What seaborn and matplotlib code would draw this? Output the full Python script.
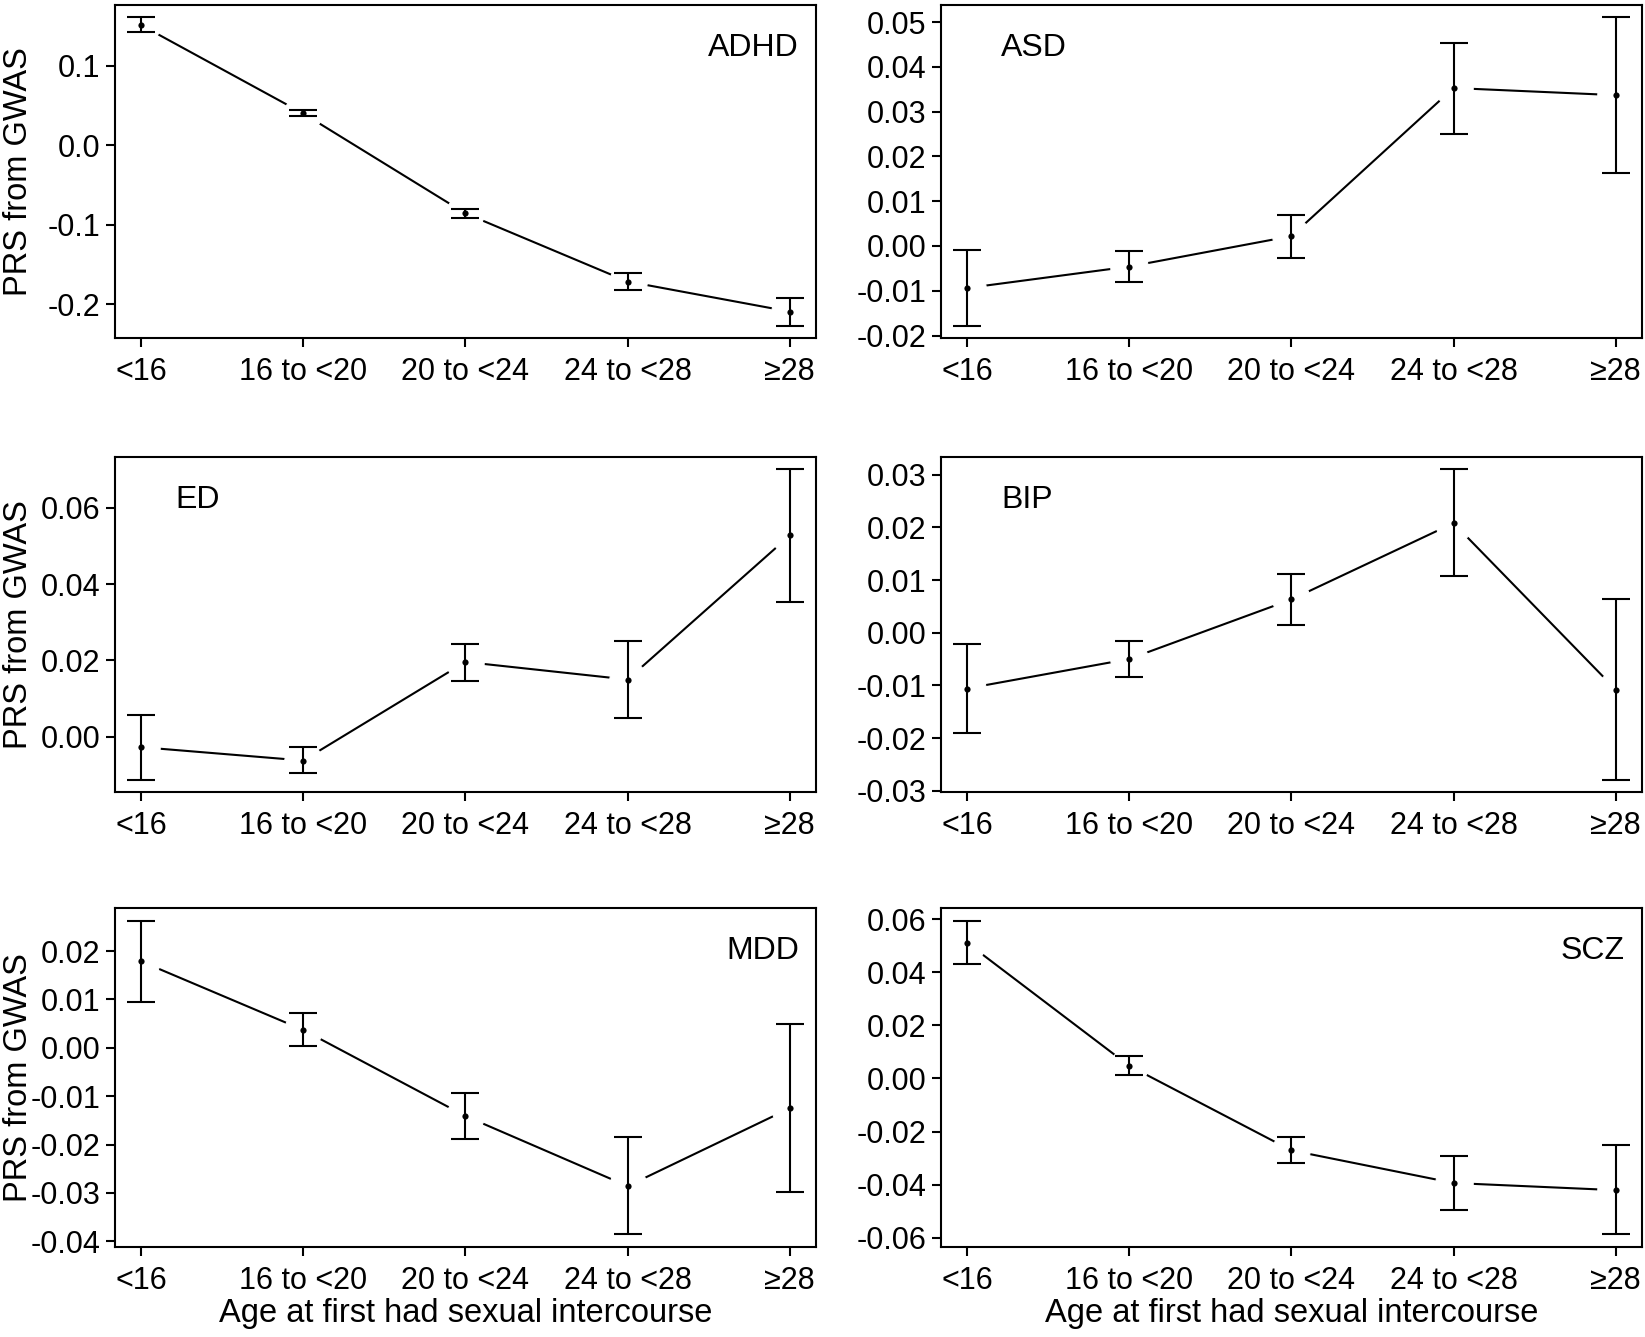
import numpy as np
import matplotlib
matplotlib.use("Agg")
import matplotlib.pyplot as plt
import seaborn as sns
from matplotlib.ticker import FormatStrFormatter

categories = ["<16", "16 to <20", "20 to <24", "24 to <28", "≥28"]
traits = ["ADHD", "ASD", "ED", "BIP", "MDD", "SCZ"]

# mean PRS, lower and upper CI per age group
adhd_mean = [0.1514, 0.0400, -0.0858, -0.1716, -0.2095]
adhd_lo = [0.1430, 0.0366, -0.0913, -0.1822, -0.2272]
adhd_hi = [0.1611, 0.0442, -0.0808, -0.1611, -0.1927]

asd_mean = [-0.0094, -0.0046, 0.0022, 0.0353, 0.0337]
asd_lo = [-0.0178, -0.0080, -0.0026, 0.0250, 0.0163]
asd_hi = [-0.0009, -0.0011, 0.0070, 0.0454, 0.0511]

ed_mean = [-0.0027, -0.0062, 0.0196, 0.0150, 0.0527]
ed_lo = [-0.0112, -0.0095, 0.0147, 0.0049, 0.0354]
ed_hi = [0.0057, -0.0027, 0.0244, 0.0252, 0.0700]

bip_mean = [-0.0106, -0.0050, 0.0063, 0.0208, -0.0108]
bip_lo = [-0.0191, -0.0084, 0.0015, 0.0107, -0.0279]
bip_hi = [-0.0021, -0.0016, 0.0111, 0.0310, 0.0063]

mdd_mean = [0.0179, 0.0037, -0.0141, -0.0286, -0.0125]
mdd_lo = [0.0095, 0.0003, -0.0189, -0.0386, -0.0298]
mdd_hi = [0.0263, 0.0072, -0.0093, -0.0185, 0.0049]

scz_mean = [0.0512, 0.0048, -0.0271, -0.0394, -0.0421]
scz_lo = [0.0430, 0.0014, -0.0320, -0.0494, -0.0588]
scz_hi = [0.0595, 0.0083, -0.0222, -0.0293, -0.0250]

yticks = {
    "ADHD": [-0.2, -0.1, 0.0, 0.1],
    "ASD": [-0.02, -0.01, 0.0, 0.01, 0.02, 0.03, 0.04, 0.05],
    "ED": [0.0, 0.02, 0.04, 0.06],
    "BIP": [-0.03, -0.02, -0.01, 0.0, 0.01, 0.02, 0.03],
    "MDD": [-0.04, -0.03, -0.02, -0.01, 0.0, 0.01, 0.02],
    "SCZ": [-0.06, -0.04, -0.02, 0.0, 0.02, 0.04, 0.06],
}
ytick_fmt = {"ADHD": "%.1f", "ASD": "%.2f", "ED": "%.2f",
             "BIP": "%.2f", "MDD": "%.2f", "SCZ": "%.2f"}
label_side = {"ADHD": "right", "ASD": "left", "ED": "left",
              "BIP": "left", "MDD": "right", "SCZ": "right"}

data = {
    "ADHD": (adhd_mean, adhd_lo, adhd_hi),
    "ASD": (asd_mean, asd_lo, asd_hi),
    "ED": (ed_mean, ed_lo, ed_hi),
    "BIP": (bip_mean, bip_lo, bip_hi),
    "MDD": (mdd_mean, mdd_lo, mdd_hi),
    "SCZ": (scz_mean, scz_lo, scz_hi),
}

sns.set_theme(style="ticks")
plt.rcParams["font.family"] = ["Liberation Sans", "DejaVu Sans"]
plt.rcParams["axes.unicode_minus"] = False
plt.rcParams["axes.edgecolor"] = "black"
plt.rcParams["axes.linewidth"] = 1.5
plt.rcParams["xtick.color"] = "black"
plt.rcParams["ytick.color"] = "black"
plt.rcParams["text.color"] = "black"
plt.rcParams["axes.labelcolor"] = "black"

fig = plt.figure(figsize=(16.45, 13.37), dpi=100)

col_x = [0.0699, 0.572]
col_w = 0.426
rows = [(0.7472, 0.2491), (0.4076, 0.2506), (0.0673, 0.2535)]

x = np.arange(len(categories))

for i, trait in enumerate(traits):
    r, c = divmod(i, 2)
    ax = fig.add_axes([col_x[c], rows[r][0], col_w, rows[r][1]])
    mean, lo, hi = (np.array(v) for v in data[trait])

    # line with gaps around the points (R type="b" look)
    sns.lineplot(x=x, y=mean, ax=ax, color="black", lw=1.5, marker="o",
                 markersize=27, markerfacecolor="white",
                 markeredgecolor="white", zorder=2)
    ax.errorbar(x, mean, yerr=[mean - lo, hi - mean], fmt="none",
                ecolor="black", elinewidth=1.5, capsize=10, capthick=1.5,
                zorder=3)
    sns.scatterplot(x=x, y=mean, ax=ax, color="black", s=20,
                    linewidth=0, zorder=4)

    ymin, ymax = lo.min(), hi.max()
    pad = 0.04 * (ymax - ymin)
    ax.set_ylim(ymin - pad, ymax + pad)
    ax.set_xlim(-0.16, 4.16)
    ax.set_xticks(x)
    ax.set_xticklabels(categories)
    ax.set_yticks(yticks[trait])
    ax.yaxis.set_major_formatter(FormatStrFormatter(ytick_fmt[trait]))
    ax.tick_params(axis="both", labelsize=22, length=6.5, width=1.5,
                   direction="out")
    ax.tick_params(axis="x", pad=7.5)
    ax.tick_params(axis="y", pad=4)

    for s in ax.spines.values():
        s.set_linewidth(1.5)
        s.set_color("black")

    if label_side[trait] == "right":
        ax.text(0.976, 0.872, trait, transform=ax.transAxes, ha="right",
                va="center", fontsize=23)
    else:
        ax.text(0.086, 0.872, trait, transform=ax.transAxes, ha="left",
                va="center", fontsize=23)

    if c == 0:
        ax.set_ylabel("PRS from GWAS", fontsize=23.5)
        ax.yaxis.set_label_coords(-0.1155, 0.5)
    else:
        ax.set_ylabel("")
    if r == 2:
        ax.set_xlabel("Age at first had sexual intercourse", fontsize=23.5,
                      labelpad=1)
    else:
        ax.set_xlabel("")

fig.savefig("out.png", dpi=100, facecolor="white")
